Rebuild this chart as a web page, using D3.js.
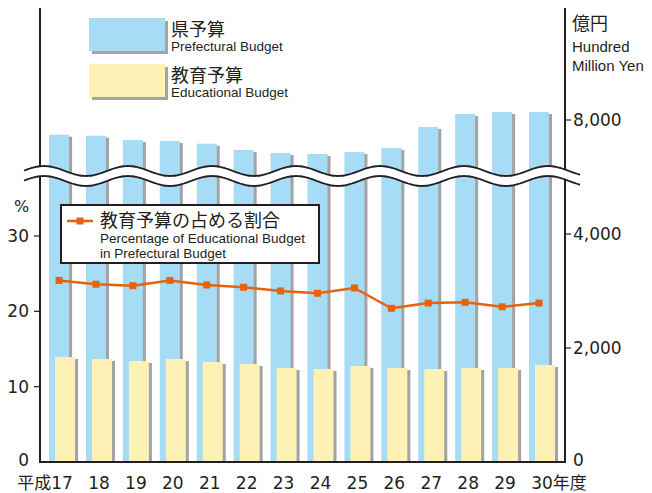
<!DOCTYPE html>
<html>
<head>
<meta charset="utf-8">
<script src="https://d3js.org/d3.v7.min.js"></script>
<style>
  html, body { margin: 0; padding: 0; background: #fff; }
  svg { display: block; }
  text { font-family: "DejaVu Sans", "Noto Sans CJK JP", sans-serif; fill: #231f20; }
  .en { font-family: "Liberation Sans", "Noto Sans CJK JP", sans-serif; }
  .ja { font-family: "Noto Sans CJK JP", sans-serif; }
</style>
</head>
<body>
<svg id="chart" width="652" height="493"></svg>
<script>
// Data
const years = ['17', '18', '19', '20', '21', '22', '23', '24', '25', '26', '27', '28', '29', '30'];
const prefBudget = [7742, 7725, 7649, 7632, 7584, 7474, 7421, 7404, 7439, 7509, 7877, 8105, 8140, 8140];
const eduBudget = [1842, 1807, 1772, 1807, 1754, 1719, 1649, 1632, 1684, 1649, 1632, 1649, 1649, 1702];
const eduShare = [24.1, 23.6, 23.4, 24.1, 23.5, 23.2, 22.7, 22.4, 23.1, 20.4, 21.1, 21.2, 20.6, 21.1];
const leftTicks = [0, 10, 20, 30];
const rightTicks = [0, 2000, 4000, 8000];

// amount hidden by the axis break (values above the break are shifted down by this)
const breakGap = 2000;
const breakAt = 5000;

// Colors
const colors = {
  pref: '#a6dcf5',
  edu: '#fef1b5',
  shadow: '#a3a3a3',
  line: '#e8620a',
  axis: '#231f20'
};

const svg = d3.select('#chart');

const plot = { left: 40, right: 565, top: 8, bottom: 462 };

const x = d3.scaleBand()
  .domain(years)
  .range([plot.left, plot.right])
  .paddingInner(0)
  .paddingOuter(0.11);

const yL = d3.scaleLinear().domain([0, 30]).range([plot.bottom, 236]);
const yR = d3.scaleLinear().domain([0, 4000]).range([plot.bottom, 234]);
const yAmt = v => v > breakAt ? yR(v - breakGap) : yR(v);

const barW = 20;
const sdx = 3, sdy = 2;

const prefData = years.map((y, i) => ({ year: y, v: prefBudget[i] }));
const eduData = years.map((y, i) => ({ year: y, v: eduBudget[i] }));
const shareData = years.map((y, i) => ({ year: y, v: eduShare[i] }));

// Prefectural budget bars
const gPref = svg.append('g');
gPref.selectAll('rect.sh')
  .data(prefData)
  .enter()
  .append('rect')
  .attr('x', d => x(d.year) + 5 + sdx)
  .attr('y', d => yAmt(d.v) + sdy)
  .attr('width', barW)
  .attr('height', d => plot.bottom - yAmt(d.v) - sdy)
  .attr('fill', colors.shadow);
gPref.selectAll('rect.bar')
  .data(prefData)
  .enter()
  .append('rect')
  .attr('x', d => x(d.year) + 5)
  .attr('y', d => yAmt(d.v))
  .attr('width', barW)
  .attr('height', d => plot.bottom - yAmt(d.v))
  .attr('fill', colors.pref);

// Educational budget bars
const gEdu = svg.append('g');
gEdu.selectAll('rect.sh')
  .data(eduData)
  .enter()
  .append('rect')
  .attr('x', d => x(d.year) + 11 + sdx)
  .attr('y', d => yAmt(d.v) + sdy)
  .attr('width', barW)
  .attr('height', d => plot.bottom - yAmt(d.v) - sdy)
  .attr('fill', colors.shadow);
gEdu.selectAll('rect.bar')
  .data(eduData)
  .enter()
  .append('rect')
  .attr('x', d => x(d.year) + 11)
  .attr('y', d => yAmt(d.v))
  .attr('width', barW)
  .attr('height', d => plot.bottom - yAmt(d.v))
  .attr('fill', colors.edu);

// Axes
const gAxis = svg.append('g').attr('stroke', colors.axis);
gAxis.append('line')
  .attr('x1', plot.left).attr('x2', plot.left)
  .attr('y1', plot.top).attr('y2', plot.bottom + 1)
  .attr('stroke-width', 2);
gAxis.append('line')
  .attr('x1', plot.right).attr('x2', plot.right)
  .attr('y1', plot.top).attr('y2', plot.bottom + 1)
  .attr('stroke-width', 2);
gAxis.append('line')
  .attr('x1', plot.left - 1).attr('x2', plot.right + 1)
  .attr('y1', plot.bottom).attr('y2', plot.bottom)
  .attr('stroke-width', 2);

// left ticks
gAxis.selectAll('line.lt')
  .data(leftTicks.filter(d => d > 0))
  .enter()
  .append('line')
  .attr('x1', plot.left - 6).attr('x2', plot.left)
  .attr('y1', d => yL(d)).attr('y2', d => yL(d))
  .attr('stroke-width', 1.2);
svg.selectAll('text.lt')
  .data(leftTicks)
  .enter()
  .append('text')
  .attr('x', 29)
  .attr('y', d => yL(d) + (d === 0 ? 4 : 6))
  .attr('text-anchor', 'end')
  .attr('font-size', 17)
  .text(d => d);

// right ticks
gAxis.selectAll('line.rt')
  .data(rightTicks.filter(d => d > 0))
  .enter()
  .append('line')
  .attr('x1', plot.right).attr('x2', plot.right + 6)
  .attr('y1', d => yAmt(d)).attr('y2', d => yAmt(d))
  .attr('stroke-width', 1.2);
svg.selectAll('text.rt')
  .data(rightTicks)
  .enter()
  .append('text')
  .attr('x', 573)
  .attr('y', d => yAmt(d) + (d === 0 ? 4 : 6))
  .attr('font-size', 17)
  .text(d => d3.format(',')(d));

// axis break band
const waveLine = d3.line().curve(d3.curveBasis);
function wave(yc) {
  const pts = [];
  for (let px = 24; px <= 581; px += 2) {
    pts.push([px, yc - 5 * Math.sin(2 * Math.PI * (px - 548 + 21) / 84)]);
  }
  return pts;
}
const upper = wave(171);
const lower = wave(181);
svg.append('path')
  .attr('d', waveLine(upper.concat(lower.slice().reverse())) + 'Z')
  .attr('fill', '#fff');
svg.append('path')
  .attr('d', waveLine(upper))
  .attr('fill', 'none')
  .attr('stroke', colors.axis)
  .attr('stroke-width', 1.8);
svg.append('path')
  .attr('d', waveLine(lower))
  .attr('fill', 'none')
  .attr('stroke', colors.axis)
  .attr('stroke-width', 1.8);

// Share line
const shareLine = d3.line()
  .x(d => x(d.year) + 15)
  .y(d => yL(d.v));
svg.append('path')
  .datum(shareData)
  .attr('d', shareLine)
  .attr('fill', 'none')
  .attr('stroke', colors.line)
  .attr('stroke-width', 2.5);
svg.selectAll('rect.pt')
  .data(shareData)
  .enter()
  .append('rect')
  .attr('x', d => x(d.year) + 15 - 3.5)
  .attr('y', d => yL(d.v) - 3.5)
  .attr('width', 7)
  .attr('height', 7)
  .attr('fill', colors.line);

// X labels
const gX = svg.append('g');
years.forEach((yr, i) => {
  const cx = x(yr) + 18;
  const t = gX.append('text')
    .attr('x', cx)
    .attr('y', 489)
    .attr('text-anchor', 'middle')
    .attr('font-size', 17)
    .text(yr);
  const w = t.node().getComputedTextLength();
  if (i === 0) {
    gX.append('text').attr('class', 'ja')
      .attr('x', cx - w / 2).attr('y', 489)
      .attr('text-anchor', 'end')
      .attr('font-size', 17)
      .text('平成');
  }
  if (i === years.length - 1) {
    gX.append('text').attr('class', 'ja')
      .attr('x', cx + w / 2).attr('y', 489)
      .attr('font-size', 17)
      .text('年度');
  }
});

// Axis titles
svg.append('text').attr('x', 14).attr('y', 212).attr('font-size', 16).text('%');
svg.append('text').attr('class', 'ja').attr('x', 572).attr('y', 30).attr('font-size', 18).text('億円');
svg.append('text').attr('class', 'en').attr('x', 572).attr('y', 52).attr('font-size', 15).text('Hundred');
svg.append('text').attr('class', 'en').attr('x', 572).attr('y', 71).attr('font-size', 15).text('Million Yen');

// Bar legend
const barLegend = [
  { fill: colors.pref, ja: '県予算', en: 'Prefectural Budget', y: 18 },
  { fill: colors.edu, ja: '教育予算', en: 'Educational Budget', y: 64 }
];
barLegend.forEach(d => {
  svg.append('rect').attr('x', 89 + 3).attr('y', d.y + 3).attr('width', 76).attr('height', 33).attr('fill', colors.shadow);
  svg.append('rect').attr('x', 89).attr('y', d.y).attr('width', 76).attr('height', 33).attr('fill', d.fill);
  svg.append('text').attr('class', 'ja').attr('x', 171).attr('y', d.y + 18).attr('font-size', 18).text(d.ja);
  svg.append('text').attr('class', 'en').attr('x', 171).attr('y', d.y + 33).attr('font-size', 13.5).text(d.en);
});

// Line legend
svg.append('rect')
  .attr('x', 61).attr('y', 205)
  .attr('width', 258).attr('height', 58)
  .attr('fill', '#fff')
  .attr('stroke', colors.axis)
  .attr('stroke-width', 2);
svg.append('line')
  .attr('x1', 67).attr('x2', 93)
  .attr('y1', 221).attr('y2', 221)
  .attr('stroke', colors.line)
  .attr('stroke-width', 2.5);
svg.append('rect')
  .attr('x', 76.5).attr('y', 217.5)
  .attr('width', 7).attr('height', 7)
  .attr('fill', colors.line);
svg.append('text').attr('class', 'ja').attr('x', 100).attr('y', 227).attr('font-size', 18).text('教育予算の占める割合');
svg.append('text').attr('class', 'en').attr('x', 100).attr('y', 243).attr('font-size', 13.5).text('Percentage of Educational Budget');
svg.append('text').attr('class', 'en').attr('x', 100).attr('y', 258).attr('font-size', 13.5).text('in Prefectural Budget');
</script>
</body>
</html>
